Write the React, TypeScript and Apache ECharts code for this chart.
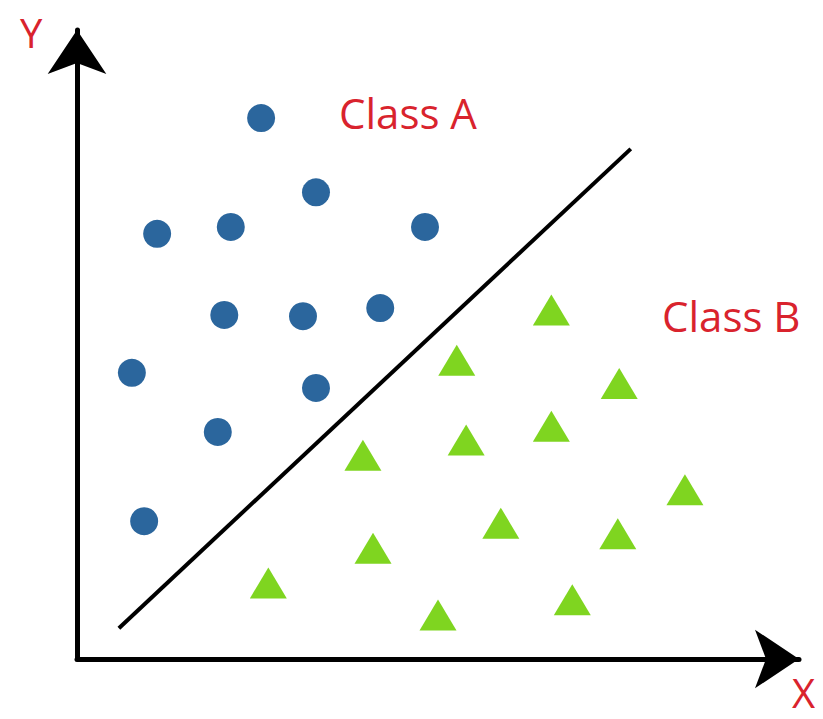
import React, { useEffect, useRef } from "react";
import * as echarts from "echarts";

const classA: [number, number][] = [
  [25.5, 86.0], [33.1, 74.2], [11.1, 67.6], [21.3, 68.7], [48.2, 68.7],
  [20.4, 54.7], [31.3, 54.5], [42.0, 55.8], [7.6, 45.5], [33.1, 43.1],
  [19.5, 36.1], [9.3, 21.9],
];
const classB: [number, number][] = [
  [65.7, 55.5], [52.6, 47.5], [75.1, 43.8], [53.9, 34.8], [65.7, 37.0],
  [39.6, 32.4], [84.2, 26.9], [58.7, 21.6], [74.9, 19.9], [41.0, 17.6],
  [26.5, 12.1], [68.6, 9.4], [50.0, 7.0],
];
const boundary: [number, number][] = [[5.8, 4.9], [76.7, 81.1]];
const classLabels = ["Class A", "Class B"];
const axisNames = ["X", "Y"];

export default function App() {
  const ref = useRef<HTMLDivElement>(null);
  useEffect(() => {
    if (!ref.current) return;
    const chart = echarts.init(ref.current, null, { renderer: "svg" });
    const red = "#d9232d";
    const font = "'Open Sans', sans-serif";
    const axisCommon = {
      type: "value" as const,
      min: 0,
      max: 100,
      splitLine: { show: false },
      axisTick: { show: false },
      axisLabel: { show: false },
      axisLine: {
        show: true,
        symbol: ["none", "arrow"],
        symbolSize: [44, 44],
        lineStyle: { color: "#000", width: 5, join: "round" },
      },
    };
    chart.setOption({
      animation: false,
      backgroundColor: "#fff",
      grid: { left: 77, top: 30, right: 24, bottom: 60 },
      xAxis: { ...axisCommon },
      yAxis: { ...axisCommon },
      graphic: [
        { type: "text", left: 339, top: 90, style: { text: classLabels[0], fill: red, font: `42px ${font}`, lineHeight: 44 } },
        { type: "text", left: 662, top: 293, style: { text: classLabels[1], fill: red, font: `42px ${font}`, lineHeight: 44 } },
        { type: "text", left: 792, top: 672, style: { text: axisNames[0], fill: red, font: `40px ${font}`, lineHeight: 34 } },
        { type: "text", left: 20, top: 12, style: { text: axisNames[1], fill: red, font: `40px ${font}`, lineHeight: 34 } },
      ],
      series: [
        {
          type: "line",
          data: boundary,
          symbol: "none",
          lineStyle: { color: "#000", width: 4 },
          z: 1,
        },
        {
          type: "scatter",
          data: classA,
          symbol: "circle",
          symbolSize: 28,
          itemStyle: { color: "#2b669d", opacity: 1 },
          z: 2,
        },
        {
          type: "scatter",
          data: classB,
          symbol: "triangle",
          symbolSize: [37, 31],
          itemStyle: { color: "#7fd520", opacity: 1 },
          z: 2,
        },
      ],
    });
    return () => chart.dispose();
  }, []);
  return <div ref={ref} style={{ width: 823, height: 719, margin: -8 }} />;
}
